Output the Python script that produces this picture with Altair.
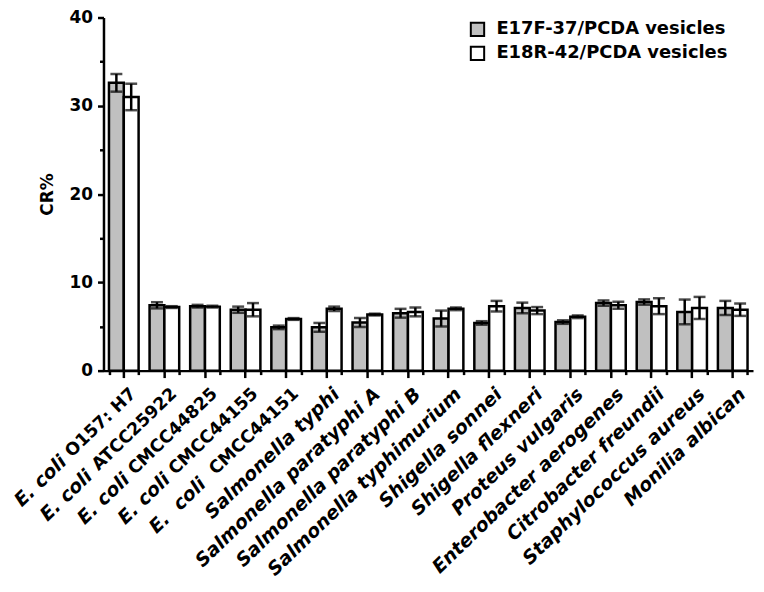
import altair as alt
import pandas as pd

categories = ["E. coli O157: H7", "E. coli ATCC25922", "E. coli CMCC44825", "E. coli CMCC44155",
              "E.  coli  CMCC44151", "Salmonella typhi", "Salmonella paratyphi A", "Salmonella paratyphi B",
              "Salmonella typhimurium", "Shigella sonnei", "Shigella flexneri", "Proteus vulgaris",
              "Enterobacter aerogenes", "Citrobacter freundii", "Staphylococcus aureus", "Monilia albican"]
series = ["E17F-37/PCDA vesicles", "E18R-42/PCDA vesicles"]
e17f_mean = [32.6, 7.4, 7.3, 6.9, 4.9, 4.9, 5.45, 6.5, 5.9, 5.4, 7.1, 5.5, 7.65, 7.77, 6.65, 7.1]
e17f_err = [1.0, 0.35, 0.15, 0.35, 0.2, 0.5, 0.5, 0.5, 0.9, 0.2, 0.6, 0.2, 0.3, 0.3, 1.4, 0.8]
e18r_mean = [31.0, 7.2, 7.25, 6.9, 5.85, 7.0, 6.35, 6.65, 7.0, 7.3, 6.8, 6.1, 7.4, 7.3, 7.1, 6.9]
e18r_err = [1.5, 0.1, 0.1, 0.75, 0.1, 0.25, 0.1, 0.5, 0.15, 0.6, 0.4, 0.15, 0.4, 0.9, 1.25, 0.7]

rows = []
for i, c in enumerate(categories):
    for s, m, e in ((series[0], e17f_mean, e17f_err), (series[1], e18r_mean, e18r_err)):
        rows.append({"cat": c, "series": s, "value": m[i], "lo": m[i] - e[i], "hi": m[i] + e[i]})
df = pd.DataFrame(rows)

# split labels: italic genus part / upright strain part
NB = "\u00a0"
lab_rows = []
for c in categories:
    if "coli" in c:
        k = c.index("coli") + 4
        rest = c[k:]
        lab_rows.append({"cat": c, "prefix": c[:k].replace(" ", NB),
                         "suffix": rest.strip(), "lead": len(rest) - len(rest.lstrip())})
    else:
        lab_rows.append({"cat": c, "prefix": c, "suffix": "", "lead": 0})
lab = pd.DataFrame(lab_rows)

FS = 19
FS_S = 17.5
ADV = {" ": 713, ":": 819, "A": 1585, "C": 1503, "H": 1716, "M": 2039, "O": 1741, "T": 1399}
def tw(s, fs):
    return sum(ADV.get(ch, 1425) for ch in s) / 2048 * fs

W, H = 653, 355
FONT = "DejaVu Sans"
ANG = 316
DX = 3
DY = 11
LY = H + 15

xs = alt.Scale(paddingInner=0.27, paddingOuter=0.135)
xo = alt.Scale(paddingInner=0, paddingOuter=0)
ys = alt.Scale(domain=[0, 40])

bars = alt.Chart(df).mark_bar(stroke="black", strokeWidth=2.5).encode(
    x=alt.X("cat:N", sort=categories, scale=xs,
            axis=alt.Axis(orient="bottom", tickBand="extent", tickSize=4, labels=False, title=None,
                          domain=True)),
    xOffset=alt.XOffset("series:N", sort=series, scale=xo),
    y=alt.Y("value:Q", scale=ys,
            axis=alt.Axis(orient="left", values=[0, 10, 20, 30, 40], title="CR%", tickSize=6,
                          labelPadding=5, titlePadding=13)),
    fill=alt.Fill("series:N", sort=series,
                  scale=alt.Scale(domain=series, range=["#c0c0c0", "#ffffff"]),
                  legend=alt.Legend(title=None, orient="none", legendX=367, legendY=3,
                                    symbolType="square", symbolSize=180, symbolStrokeColor="black",
                                    symbolStrokeWidth=2, labelFontSize=18, labelFont=FONT,
                                    labelFontWeight="bold", labelColor="black", labelOffset=10,
                                    labelLimit=0, rowPadding=2, padding=0)),
)

rules = alt.Chart(df).mark_rule(color="black", strokeWidth=2.5).encode(
    x=alt.X("cat:N", sort=categories, scale=xs,
            axis=alt.Axis(orient="bottom", tickSize=7, labels=False, title=None, domain=False)),
    xOffset=alt.XOffset("series:N", sort=series, scale=xo),
    y=alt.Y("lo:Q", scale=ys,
            axis=alt.Axis(orient="left", values=[5, 15, 25, 35], labels=False, tickSize=4,
                          domain=False, title=None)),
    y2="hi:Q",
)

caps = []
for f in ("lo", "hi"):
    caps.append(alt.Chart(df).mark_tick(color="black", thickness=2.5, size=12).encode(
        x=alt.X("cat:N", sort=categories, scale=xs, axis=None),
        xOffset=alt.XOffset("series:N", sort=series, scale=xo),
        y=alt.Y(f + ":Q", scale=ys, axis=None),
    ))

tstyle = dict(angle=ANG, align="right", baseline="middle", font=FONT,
              fontWeight="bold", color="black", dy=DY)

labels = [
    alt.Chart(lab[lab["suffix"] == ""]).mark_text(fontStyle="italic", fontSize=FS, dx=DX, **tstyle).encode(
        x=alt.X("cat:N", sort=categories, scale=xs, axis=None), y=alt.value(LY), text="prefix:N"),
    alt.Chart(lab[lab["suffix"] != ""]).mark_text(fontStyle="normal", fontSize=FS_S, dx=DX, **tstyle).encode(
        x=alt.X("cat:N", sort=categories, scale=xs, axis=None), y=alt.value(LY), text="suffix:N"),
]
for _, r in lab[lab["suffix"] != ""].iterrows():
    off = tw(r["suffix"], FS_S) + r["lead"] * tw(" ", FS)
    labels.append(
        alt.Chart(lab[lab["cat"] == r["cat"]]).mark_text(fontStyle="italic", fontSize=FS, dx=DX - off,
                                                         **tstyle).encode(
            x=alt.X("cat:N", sort=categories, scale=xs, axis=None), y=alt.value(LY), text="prefix:N"))

chart = alt.layer(bars, rules, *caps, *labels).resolve_axis(x="independent", y="independent").properties(
    width=W, height=H,
    autosize=alt.AutoSizeParams(type="none"),
    padding={"left": 96, "top": 8, "right": 3, "bottom": 221},
).configure_view(stroke=None).configure_axis(
    domainColor="black", domainWidth=2.5, tickColor="black", tickWidth=2.5,
    labelColor="black", labelFont=FONT, labelFontSize=17, labelFontWeight="bold",
    titleColor="black", titleFont=FONT, titleFontSize=17, titleFontWeight="bold", grid=False,
)

chart.save("out.html", embed_options={"renderer": "svg", "actions": False})
